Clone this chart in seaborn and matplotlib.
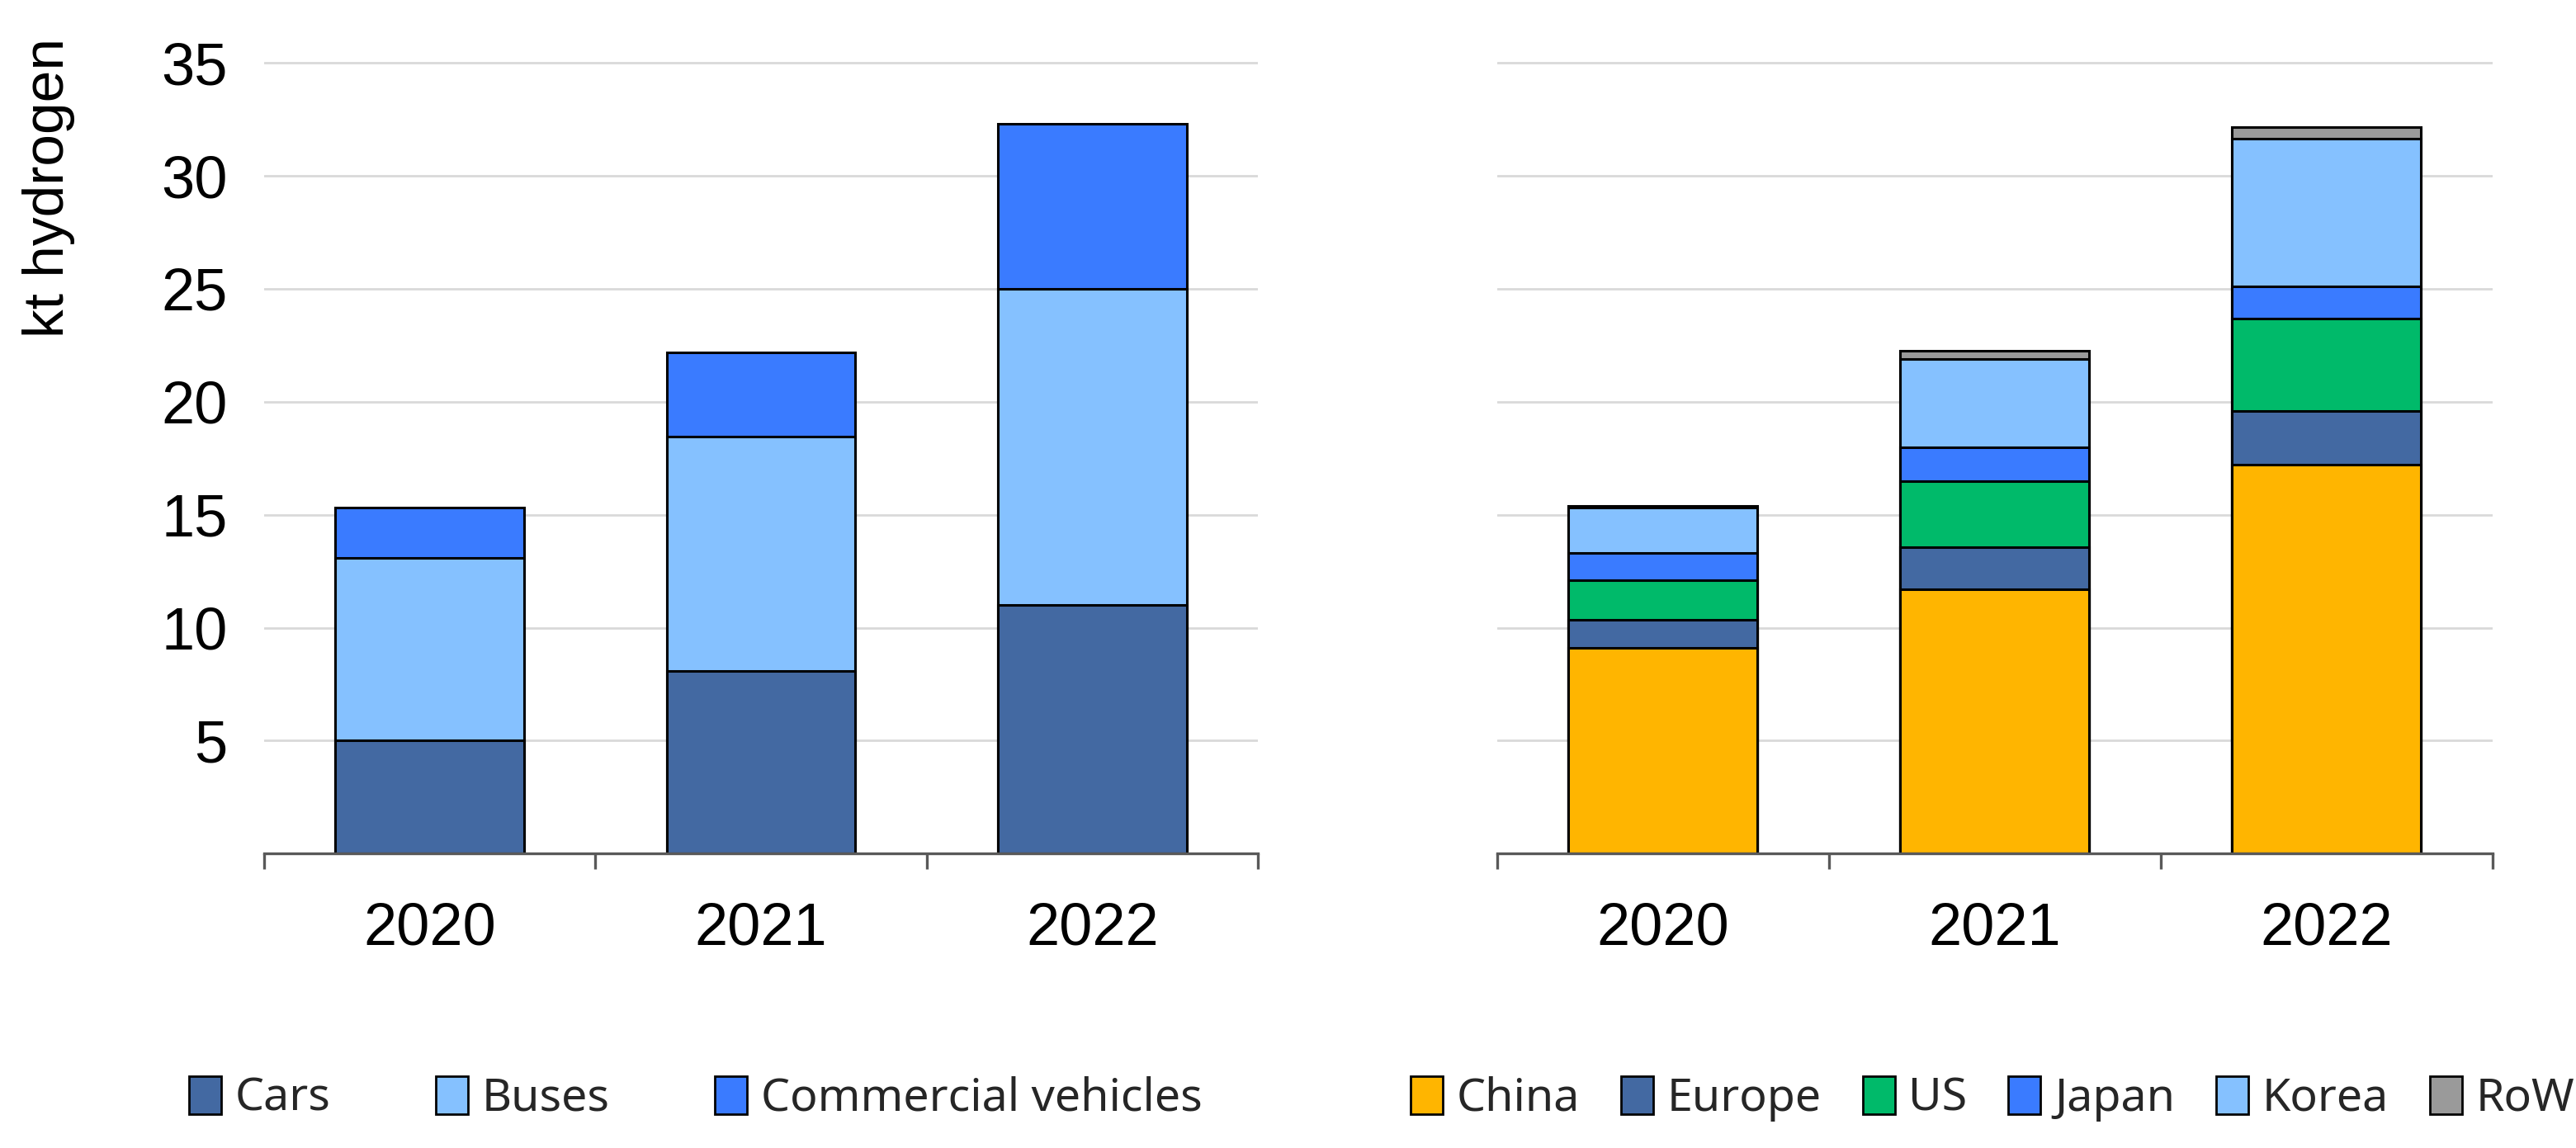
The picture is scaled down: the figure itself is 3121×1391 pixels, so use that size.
import pandas as pd
import numpy as np
import matplotlib.pyplot as plt
import seaborn as sns
from matplotlib.patches import Patch

# Data (kt hydrogen)
years = ["2020", "2021", "2022"]

segments = ["Cars", "Buses", "Commercial vehicles"]
cars = [5.0, 8.1, 11.0]
buses = [8.1, 10.35, 14.0]
commercial = [2.2, 3.75, 7.3]

regions = ["China", "Europe", "US", "Japan", "Korea", "RoW"]
china = [9.1, 11.7, 17.2]
europe = [1.25, 1.85, 2.4]
us = [1.75, 2.95, 4.1]
japan = [1.2, 1.5, 1.4]
korea = [2.0, 3.9, 6.55]
row = [0.1, 0.35, 0.5]

seg_colors = ["#4369A2", "#85C1FF", "#3A7BFF"]
reg_colors = ["#FFB500", "#4369A2", "#00BA6A", "#3A7BFF", "#85C1FF", "#9A9A9A"]

sns.set_theme(style="white")
plt.rcParams["font.family"] = ["Liberation Sans", "DejaVu Sans"]

fig = plt.figure(figsize=(15.605, 6.955), dpi=200)
ax1 = fig.add_axes([0.1025, 0.2565, 0.3858, 0.6946])
ax2 = fig.add_axes([0.5812, 0.2565, 0.3864, 0.6946])


def stacked(ax, names, series, colors):
    # draw cumulative totals from the top layer down so the bars look stacked
    df = pd.DataFrame(dict(zip(names, series)), index=years)
    cum = df.cumsum(axis=1)
    for name, col in reversed(list(zip(names, colors))):
        sns.barplot(x=cum.index, y=cum[name].values, order=years, ax=ax,
                    color=col, saturation=1, width=0.57, errorbar=None,
                    edgecolor="black", linewidth=1.1, zorder=3)


stacked(ax1, segments, [cars, buses, commercial], seg_colors)
stacked(ax2, regions, [china, europe, us, japan, korea, row], reg_colors)

for ax in (ax1, ax2):
    ax.set_ylim(0, 35.3)
    ax.set_xlim(-0.5, 2.5)
    ax.set_yticks([5, 10, 15, 20, 25, 30, 35])
    ax.yaxis.grid(True, color="#D9D9D9", linewidth=1.0, zorder=0)
    ax.set_axisbelow(True)
    for s in ["top", "right", "left"]:
        ax.spines[s].set_visible(False)
    ax.spines["bottom"].set_color("#595959")
    ax.spines["bottom"].set_linewidth(1.2)
    ax.spines["bottom"].set_zorder(4)
    ax.set_xticks([0, 1, 2])
    ax.set_xticklabels(years)
    ax.set_xticks([-0.5, 0.5, 1.5, 2.5], minor=True)
    ax.tick_params(axis="x", which="major", length=0, pad=21, labelsize=26,
                   colors="black")
    ax.tick_params(axis="x", which="minor", length=7, width=1.2,
                   color="#595959", direction="out", bottom=True)
    ax.tick_params(axis="y", length=0, pad=16, labelsize=26, colors="black")
    ax.set_xlabel("")

ax2.set_yticklabels([])
ax1.set_ylabel("kt hydrogen", fontsize=25, color="black")
ax1.yaxis.set_label_coords(-0.19, 0.835)

leg_font = {"family": "Noto Sans", "size": 20}
h1 = [Patch(facecolor=c, edgecolor="black", linewidth=1.0) for c in seg_colors]
fig.legend(h1, segments, loc="center", bbox_to_anchor=(0.27, 0.043),
           ncol=3, frameon=False, prop=leg_font, handlelength=0.7,
           handleheight=0.9, handletextpad=0.3, columnspacing=2.3)
h2 = [Patch(facecolor=c, edgecolor="black", linewidth=1.0) for c in reg_colors]
fig.legend(h2, regions, loc="center", bbox_to_anchor=(0.7735, 0.043),
           ncol=6, frameon=False, prop=leg_font, handlelength=0.7,
           handleheight=0.9, handletextpad=0.3, columnspacing=0.9)

fig.savefig("out.png", dpi=200, facecolor="white")
